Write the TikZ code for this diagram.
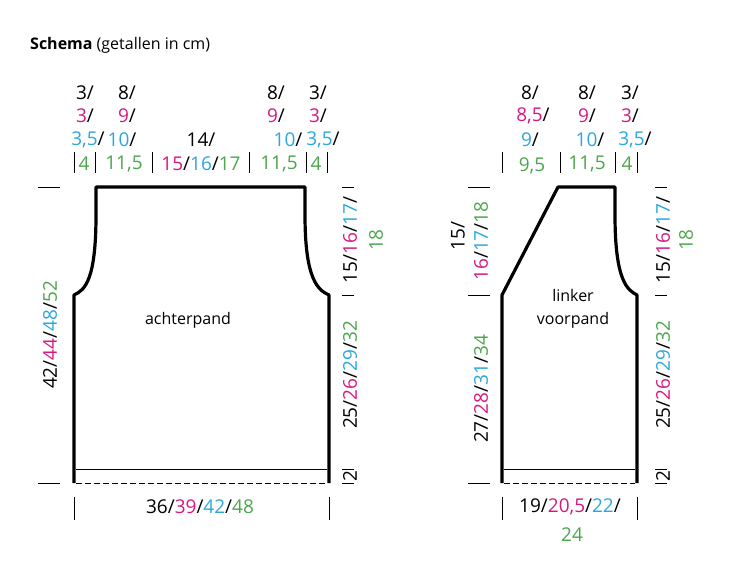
\documentclass[tikz,border=0pt]{standalone}
\usepackage{fontspec}
\setmainfont{Open Sans}
\definecolor{pk}{HTML}{D6197F}
\definecolor{bl}{HTML}{2AA7DF}
\definecolor{gr}{HTML}{4CA64C}
\newcommand\pk[1]{\textcolor{pk}{#1}}
\newcommand\bl[1]{\textcolor{bl}{#1}}
\newcommand\gr[1]{\textcolor{gr}{#1}}
\begin{document}
\begin{tikzpicture}[x=1pt, y=-1pt,
    maat/.style={inner sep=0pt, font=\fontsize{19}{22}\selectfont},
    vmaat/.style={maat, rotate=90},
    label/.style={inner sep=0pt, font=\fontsize{16}{23}\selectfont},
    rand/.style={line width=3.2pt, line join=round},
    tick/.style={line width=0.6pt},
    naad/.style={tick, dash pattern=on 6pt off 3pt}]
\useasboundingbox (0,0) rectangle (744,573);

\node [label, anchor=west] (titel) at (30,45) {\textbf{Schema} (getallen in cm)};

% achterpand
\draw [rand] (74,483) -- (74,295) .. controls (85,290) and (96,280) .. (96,215) -- (96,187)
  -- (305,187) -- (305,215) .. controls (305,280) and (318,290) .. (329,295) -- (329,483);
\draw [tick] (76,469) -- (327,469);
\draw [naad] (76,483) -- (327,483);
\node [label] (achter) at (188,320) {achterpand};

% linker voorpand
\draw [rand] (502,483) -- (502,295) -- (558,187) -- (615,187) -- (615,215)
  .. controls (615,280) and (627,290) .. (637,295) -- (637,483);
\draw [tick] (504,469) -- (635,469);
\draw [naad] (504,483) -- (635,483);
\node [label, align=center] (voor) at (573,309) {linker\\voorpand};

% maatstreepjes
\foreach \x in {74,95,152,249,306,327,502,560,615,637}
  \draw [tick] (\x,152) -- (\x,173);
\foreach \x in {74,329,502,637}
  \draw [tick] (\x,497) -- (\x,520);
\foreach \y in {187,483}
  \draw [tick] (38,\y) -- (60,\y);
\foreach \y in {187,295,483}
  \draw [tick] (468,\y) -- (490,\y);
\foreach \y in {187,295,469,483}{
  \draw [tick] (342,\y) -- (354,\y);
  \draw [tick] (655,\y) -- (667,\y);}

% bovenmaten achterpand
\node [maat] (a1) at (85,93) {3/};
\node [maat] (a2) at (85,116) {\pk{3}/};
\node [maat] (a3) at (88,140) {\bl{3,5}/};
\node [maat] (a4) at (84,164) {\gr{4}};
\node [maat] (b1) at (127,93) {8/};
\node [maat] (b2) at (127,116) {\pk{9}/};
\node [maat] (b3) at (122,140) {\bl{10}/};
\node [maat] (b4) at (124,164) {\gr{11,5}};
\node [maat] (c3) at (201,140) {14/};
\node [maat] (c4) at (201,164) {\pk{15}/\bl{16}/\gr{17}};
\node [maat] (d1) at (276,93) {8/};
\node [maat] (d2) at (276,116) {\pk{9}/};
\node [maat] (d3) at (288,140) {\bl{10}/};
\node [maat] (d4) at (279,164) {\gr{11,5}};
\node [maat] (e1) at (318,93) {3/};
\node [maat] (e2) at (318,116) {\pk{3}/};
\node [maat] (e3) at (323,140) {\bl{3,5}/};
\node [maat] (e4) at (316,164) {\gr{4}};

% bovenmaten voorpand
\node [maat] (f1) at (530,93) {8/};
\node [maat] (f2) at (533,116) {\pk{8,5}/};
\node [maat] (f3) at (530,140) {\bl{9}/};
\node [maat] (f4) at (532,166) {\gr{9,5}};
\node [maat] (g1) at (587,93) {8/};
\node [maat] (g2) at (587,116) {\pk{9}/};
\node [maat] (g3) at (590,140) {\bl{10}/};
\node [maat] (g4) at (587,164) {\gr{11,5}};
\node [maat] (h1) at (630,93) {3/};
\node [maat] (h2) at (630,116) {\pk{3}/};
\node [maat] (h3) at (635,140) {\bl{3,5}/};
\node [maat] (h4) at (627,164) {\gr{4}};

% zijmaten
\node [vmaat] (lengte) at (50,335) {42/\pk{44}/\bl{48}/\gr{52}};
\node [vmaat] (arm1) at (350,240) {15/\pk{16}/\bl{17}/};
\node [vmaat] (arm2) at (376,240) {\gr{18}};
\node [vmaat] (zij) at (350,375) {25/\pk{26}/\bl{29}/\gr{32}};
\node [vmaat] (bord) at (350,476) {2};
\node [vmaat] (hals1) at (458,236) {15/};
\node [vmaat] (hals2) at (481,241) {\pk{16}/\bl{17}/\gr{18}};
\node [vmaat] (vlengte) at (481,389) {27/\pk{28}/\bl{31}/\gr{34}};
\node [vmaat] (varm1) at (663,240) {15/\pk{16}/\bl{17}/};
\node [vmaat] (varm2) at (686,240) {\gr{18}};
\node [vmaat] (vzij) at (663,375) {25/\pk{26}/\bl{29}/\gr{32}};
\node [vmaat] (vbord) at (663,476) {2};

% breedtes
\node [maat] (breed) at (200,507) {36/\pk{39}/\bl{42}/\gr{48}};
\node [maat] (vbreed1) at (570,507) {19/\pk{20,5}/\bl{22}/};
\node [maat] (vbreed2) at (572,535) {\gr{24}};
\end{tikzpicture}
\end{document}
